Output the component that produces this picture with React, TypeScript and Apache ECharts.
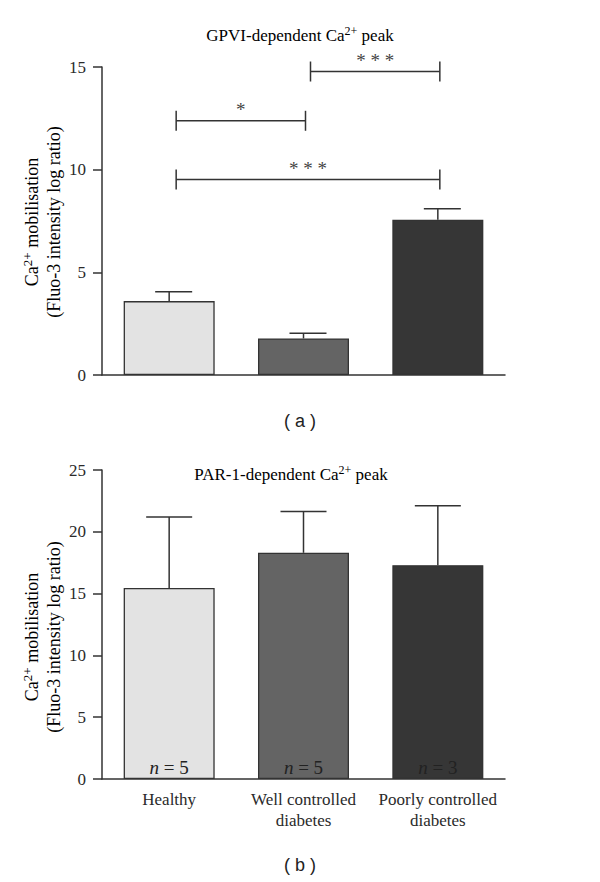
import React, { useEffect, useRef } from "react";
import * as echarts from "echarts";

// ---------- data ----------
const categories = ["Healthy", "Well controlled\ndiabetes", "Poorly controlled\ndiabetes"];
const gpviMean = [3.6, 1.78, 7.56];
const gpviUpper = [4.05, 2.03, 8.1];
const par1Mean = [15.45, 18.3, 17.3];
const par1Upper = [21.2, 21.65, 22.1];
const sampleSizes = [5, 5, 3];
const barColors = ["#e3e3e3", "#646464", "#363636"];
// [fromIndex, toIndex, y value, label]
const brackets: [number, number, number, string][] = [
  [0, 1, 12.38, "*"],
  [1, 2, 14.78, "* * *"],
  [0, 2, 9.52, "* * *"],
];
const gpviTicks = { min: 0, max: 15, interval: 5 };
const par1Ticks = { min: 0, max: 25, interval: 5 };

const SERIF = "Liberation Serif";
const SANS = "Liberation Sans";
const INK = "#2a2a2a";
const LINE = "#333333";

function errorRender(capL: number, capR: number) {
  return (params: any, api: any) => {
    const idx = api.value(0);
    const base = api.coord([idx, api.value(1)]);
    const top = api.coord([idx, api.value(2)]);
    const st = { stroke: LINE, lineWidth: 1.5 };
    return {
      type: "group",
      children: [
        { type: "line", shape: { x1: base[0], y1: base[1], x2: top[0], y2: top[1] }, style: st },
        { type: "line", shape: { x1: top[0] - capL, y1: top[1], x2: top[0] + capR, y2: top[1] }, style: st },
      ],
    };
  };
}

function bracketRender(params: any, api: any) {
  const from = api.value(0);
  const to = api.value(1);
  const y = api.value(2);
  const label = brackets[params.dataIndex][3];
  const p1 = api.coord([from, y]);
  const p2 = api.coord([to, y]);
  const x1 = p1[0] + 7;
  const x2 = p2[0] + 2;
  const yy = p1[1];
  const st = { stroke: LINE, lineWidth: 1.5 };
  return {
    type: "group",
    children: [
      { type: "line", shape: { x1, y1: yy, x2, y2: yy }, style: st },
      { type: "line", shape: { x1, y1: yy - 10, x2: x1, y2: yy + 10 }, style: st },
      { type: "line", shape: { x1: x2, y1: yy - 10, x2, y2: yy + 10 }, style: st },
      {
        type: "text",
        x: (x1 + x2) / 2,
        y: yy - 2,
        style: {
          text: label,
          fontFamily: SERIF,
          fontSize: 19,
          fill: "#444",
          align: "center",
          verticalAlign: "bottom",
        },
      },
    ],
  };
}

function barSeries(values: number[], xi: number, showN: boolean) {
  return {
    type: "bar",
    xAxisIndex: xi,
    yAxisIndex: xi,
    barWidth: 91,
    data: values.map((v, i) => ({
      value: v,
      itemStyle: { color: barColors[i], borderColor: LINE, borderWidth: 1.3 },
    })),
    label: showN
      ? {
          show: true,
          position: "insideBottom",
          distance: 2,
          formatter: (p: any) => `{i|n}{t| = ${sampleSizes[p.dataIndex]}}`,
          rich: {
            i: { fontFamily: SERIF, fontSize: 19, fontStyle: "italic", color: "#222" },
            t: { fontFamily: SERIF, fontSize: 19, color: "#222" },
          },
        }
      : { show: false },
    z: 2,
  };
}

function yAxisCfg(gi: number, t: { min: number; max: number; interval: number }) {
  return {
    type: "value",
    gridIndex: gi,
    min: t.min,
    max: t.max,
    interval: t.interval,
    splitLine: { show: false },
    axisLine: { show: true, lineStyle: { color: LINE, width: 1.5 } },
    axisTick: { show: true, length: 9, lineStyle: { color: LINE, width: 1.5 } },
    axisLabel: { fontFamily: SERIF, fontSize: 17, color: INK, margin: 16 },
  };
}

export default function App() {
  const ref = useRef<HTMLDivElement>(null);
  useEffect(() => {
    document.body.style.margin = "0";
    if (!ref.current) return;
    const chart = echarts.init(ref.current, undefined, { renderer: "svg" });
    const yLabel = "{n|Ca}{sup|2+}{n| mobilisation}\n{n|(Fluo-3 intensity log ratio)}";
    const yRich = {
      n: { fontFamily: SERIF, fontSize: 18, color: INK, lineHeight: 22 },
      sup: { fontFamily: SERIF, fontSize: 13, color: INK, verticalAlign: "top", lineHeight: 22 },
    };
    const titleRich = {
      n: { fontFamily: SERIF, fontSize: 17, color: INK, lineHeight: 20 },
      sup: { fontFamily: SERIF, fontSize: 12, color: INK, verticalAlign: "top", lineHeight: 20 },
    };
    chart.setOption({
      animation: false,
      backgroundColor: "#ffffff",
      textStyle: { fontFamily: SERIF },
      grid: [
        { left: 102, top: 67, width: 403, height: 308 },
        { left: 102, top: 470, width: 403, height: 309 },
      ],
      xAxis: [
        {
          type: "category",
          gridIndex: 0,
          data: categories,
          axisLine: { lineStyle: { color: LINE, width: 1.5 } },
          axisTick: { show: false },
          axisLabel: { show: false },
        },
        {
          type: "category",
          gridIndex: 1,
          data: categories,
          axisLine: { lineStyle: { color: LINE, width: 1.5 } },
          axisTick: { show: false },
          axisLabel: {
            interval: 0,
            fontFamily: SERIF,
            fontSize: 17,
            lineHeight: 21,
            color: INK,
            margin: 10,
          },
        },
      ],
      yAxis: [yAxisCfg(0, gpviTicks), yAxisCfg(1, par1Ticks)],
      series: [
        barSeries(gpviMean, 0, false),
        barSeries(par1Mean, 1, true),
        {
          type: "custom",
          xAxisIndex: 0,
          yAxisIndex: 0,
          renderItem: errorRender(14, 23),
          data: gpviMean.map((m, i) => [i, m, gpviUpper[i]]),
          z: 3,
        },
        {
          type: "custom",
          xAxisIndex: 1,
          yAxisIndex: 1,
          renderItem: errorRender(23, 23),
          data: par1Mean.map((m, i) => [i, m, par1Upper[i]]),
          z: 3,
        },
        {
          type: "custom",
          xAxisIndex: 0,
          yAxisIndex: 0,
          renderItem: bracketRender,
          data: brackets.map((b) => [b[0], b[1], b[2]]),
          z: 4,
        },
      ],
      graphic: [
        {
          type: "text",
          x: 300,
          y: 35,
          style: {
            text: "{n|GPVI-dependent Ca}{sup|2+}{n| peak}",
            rich: titleRich,
            align: "center",
            verticalAlign: "middle",
          },
        },
        {
          type: "text",
          x: 291,
          y: 474,
          style: {
            text: "{n|PAR-1-dependent Ca}{sup|2+}{n| peak}",
            rich: titleRich,
            align: "center",
            verticalAlign: "middle",
          },
        },
        {
          type: "text",
          x: 43,
          y: 222,
          rotation: Math.PI / 2,
          style: { text: yLabel, rich: yRich, align: "center", verticalAlign: "middle" },
        },
        {
          type: "text",
          x: 43,
          y: 637,
          rotation: Math.PI / 2,
          style: { text: yLabel, rich: yRich, align: "center", verticalAlign: "middle" },
        },
        {
          type: "text",
          x: 300,
          y: 421,
          style: { text: "( a )", fontFamily: SANS, fontSize: 18, fill: "#222", align: "center", verticalAlign: "middle" },
        },
        {
          type: "text",
          x: 300,
          y: 865,
          style: { text: "( b )", fontFamily: SANS, fontSize: 18, fill: "#222", align: "center", verticalAlign: "middle" },
        },
      ],
    });
    return () => chart.dispose();
  }, []);
  return <div ref={ref} style={{ width: 600, height: 882 }} />;
}
